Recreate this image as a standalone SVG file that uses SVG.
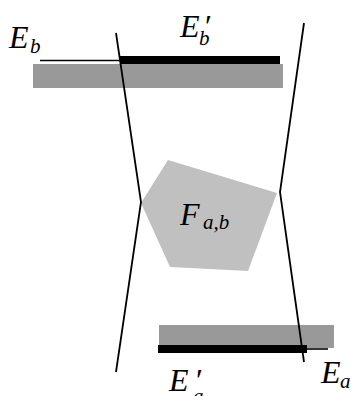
<svg xmlns="http://www.w3.org/2000/svg" width="353" height="396" viewBox="0 0 353 396">
<style>
.bar{fill:#999999}
.thick{stroke:#000;stroke-width:8;fill:none}
.thin{stroke:#000;stroke-width:1.6;fill:none}
.edge{stroke:#000;stroke-width:1.8;fill:none;stroke-linejoin:miter}
.lbl{font-family:"Liberation Serif","Times New Roman",serif;font-style:italic;font-size:32px;fill:#000}
.sub{font-size:21px}
</style>
<rect width="353" height="396" fill="#fff"/>
<g id="top-bar">
<rect class="bar" x="33" y="64" width="250" height="24"/>
<line class="thin" x1="40" y1="60.5" x2="122" y2="60.5"/>
<line class="thick" x1="120" y1="60" x2="280" y2="60"/>
</g>
<g id="bottom-bar">
<rect class="bar" x="159" y="325" width="175" height="23"/>
<line class="thin" x1="300" y1="349" x2="328" y2="349"/>
<line class="thick" x1="158" y1="349" x2="307" y2="349"/>
</g>
<g id="face">
<polygon points="168,160 277,193 248,271 170,267 141,203" fill="#c0c0c0"/>
</g>
<g id="connectors">
<polyline class="edge" points="116,33 141,202 116,372"/>
<polyline class="edge" points="304,23 280,192 304,362"/>
</g>
<g id="labels">
<text class="lbl" x="9" y="48">E<tspan class="sub" x="30" y="53">b</tspan></text>
<text class="lbl" x="180" y="37">E<tspan x="203" y="37">′</tspan><tspan class="sub" x="199" y="45">b</tspan></text>
<text class="lbl" x="180" y="225">F<tspan class="sub" x="203" y="229">a,b</tspan></text>
<text class="lbl" x="169" y="391">E<tspan x="194" y="391">′</tspan><tspan class="sub" x="193" y="403">a</tspan></text>
<text class="lbl" x="321" y="383">E<tspan class="sub" x="340" y="388">a</tspan></text>
</g>
</svg>
